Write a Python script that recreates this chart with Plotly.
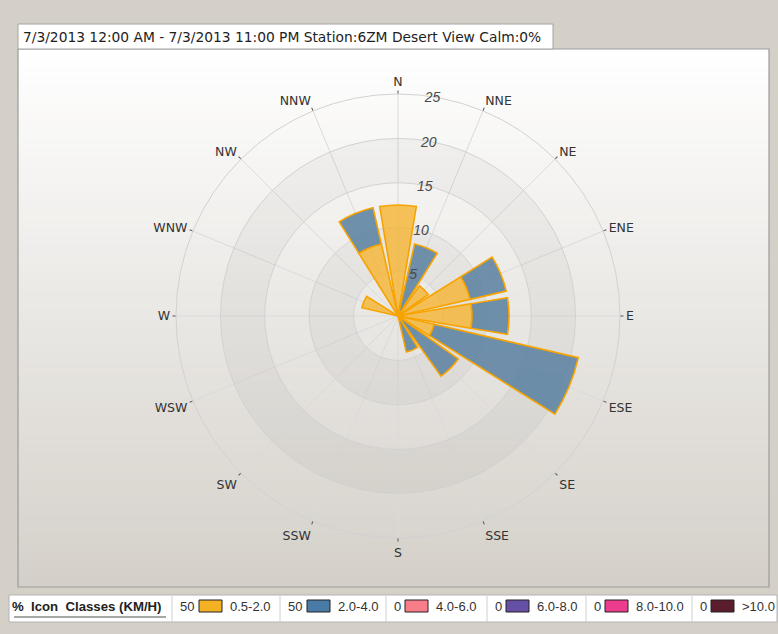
import plotly.graph_objects as go

# ---- data -------------------------------------------------------------
directions = ["N", "NNE", "NE", "ENE", "E", "ESE", "SE", "SSE",
              "S", "SSW", "SW", "WSW", "W", "WNW", "NW", "NNW"]

# frequency (%) per direction for each wind-speed class (KM/H)
freq_05_20 = [12.5, 0, 4.17, 8.33, 8.33, 4.17, 0, 0, 0, 0, 0, 0, 0, 4.17, 0, 8.33]
freq_20_40 = [0, 8.33, 0, 4.17, 4.17, 16.67, 8.33, 4.17, 0, 0, 0, 0, 0, 0, 0, 4.17]
freq_40_60 = [0, 0, 0, 0, 0, 0, 0, 0, 0, 0, 0, 0, 0, 0, 0, 0]
freq_60_80 = [0, 0, 0, 0, 0, 0, 0, 0, 0, 0, 0, 0, 0, 0, 0, 0]
freq_80_100 = [0, 0, 0, 0, 0, 0, 0, 0, 0, 0, 0, 0, 0, 0, 0, 0]
freq_100_up = [0, 0, 0, 0, 0, 0, 0, 0, 0, 0, 0, 0, 0, 0, 0, 0]

class_labels = ["0.5-2.0", "2.0-4.0", "4.0-6.0", "6.0-8.0", "8.0-10.0", ">10.0"]
class_series = [freq_05_20, freq_20_40, freq_40_60, freq_60_80, freq_80_100, freq_100_up]

radial_ticks = [5, 10, 15, 20, 25]
title_text = "7/3/2013 12:00 AM - 7/3/2013 11:00 PM Station:6ZM Desert View Calm:0%"
legend_heading = "%  Icon  Classes (KM/H)"

# ---- styling ----------------------------------------------------------
W, H = 778, 634
bar_fill = ["rgba(245,180,50,0.80)", "rgba(90,128,160,0.86)", "rgba(245,110,120,0.85)",
            "rgba(100,75,165,0.85)", "rgba(235,60,140,0.85)", "rgba(90,28,42,0.85)"]
legend_swatch = ["#F4B124", "#4A7BA6", "#F77E88", "#6650A6", "#EC3C8D", "#5B1D2B"]
bar_edge = "#F7A300"
label_font = "Liberation Sans Narrow, Liberation Sans"


def px_x(x):
    return x / W


def px_y(y):
    return 1 - y / H


angles = [i * 360 / len(directions) for i in range(len(directions))]

fig = go.Figure()

# alternating shaded rings behind the bars
for lo in (5, 15):
    fig.add_trace(go.Barpolar(
        r=[5, 5], base=[lo, lo], theta=[90, 270], width=[180, 180],
        marker=dict(color="rgba(0,0,0,0.032)", line=dict(width=0)),
        hoverinfo="skip", showlegend=False))

# stacked speed classes: each class starts where the previous one ended
cumulative = [0.0] * len(directions)
for label, series, fill in zip(class_labels, class_series, bar_fill):
    keep = [i for i, v in enumerate(series) if v > 0]
    if keep:
        fig.add_trace(go.Barpolar(
            r=[series[i] for i in keep],
            base=[cumulative[i] for i in keep],
            theta=[angles[i] for i in keep],
            width=19,
            name=label,
            marker=dict(color=fill, line=dict(color=bar_edge, width=1.6)),
            showlegend=False))
    cumulative = [c + v for c, v in zip(cumulative, series)]

# ---- background panel ---------------------------------------------------
shapes = []
top, bottom = 49, 587
n_strips = 60
c_top = (255, 255, 255)
c_bot = (212, 208, 201)
step = (bottom - top) / n_strips
for i in range(n_strips):
    t = (i + 0.5) / n_strips
    col = tuple(round(a + (b - a) * t) for a, b in zip(c_top, c_bot))
    shapes.append(dict(type="rect", xref="paper", yref="paper", layer="below",
                       x0=px_x(18), x1=px_x(769),
                       y0=px_y(top + i * step), y1=px_y(top + (i + 1) * step + 0.6),
                       fillcolor="rgb(%d,%d,%d)" % col, line=dict(width=0)))
shapes.append(dict(type="rect", xref="paper", yref="paper", layer="below",
                   x0=px_x(18), x1=px_x(769), y0=px_y(top), y1=px_y(bottom),
                   line=dict(color="#9C9C9C", width=1.2)))
# title tab
shapes.append(dict(type="rect", xref="paper", yref="paper", layer="below",
                   x0=px_x(18), x1=px_x(553), y0=px_y(24), y1=px_y(49),
                   fillcolor="white", line=dict(color="#A4A4A4", width=1)))

annotations = [dict(text=title_text, xref="paper", yref="paper",
                    x=px_x(21), y=px_y(37), xanchor="left", yanchor="middle",
                    showarrow=False,
                    font=dict(family="DejaVu Sans", size=13.8, color="#1E1E1E"))]

# ---- legend strip -----------------------------------------------------
shapes.append(dict(type="rect", xref="paper", yref="paper", layer="below",
                   x0=px_x(9), x1=px_x(777), y0=px_y(595), y1=px_y(622),
                   fillcolor="white", line=dict(color="#B4B4B4", width=1)))
shapes.append(dict(type="line", xref="paper", yref="paper", layer="below",
                   x0=px_x(14), x1=px_x(166), y0=px_y(617), y1=px_y(617),
                   line=dict(color="#8A8A8A", width=1.5)))
annotations.append(dict(text="<b>" + legend_heading + "</b>", xref="paper", yref="paper",
                        x=px_x(10), y=px_y(606), xanchor="left", yanchor="middle",
                        showarrow=False,
                        font=dict(family=label_font, size=13.2, color="#222")))
cell_left = [172, 280, 386, 487, 586, 692]
for i, (label, series) in enumerate(zip(class_labels, class_series)):
    x0 = cell_left[i]
    shapes.append(dict(type="line", xref="paper", yref="paper", layer="below",
                       x0=px_x(x0), x1=px_x(x0), y0=px_y(596), y1=px_y(622),
                       line=dict(color="#D0D0D0", width=1)))
    total = sum(series)
    annotations.append(dict(text="%.0f" % total, xref="paper", yref="paper",
                            x=px_x(x0 + 6), y=px_y(606), xanchor="left", yanchor="middle",
                            showarrow=False,
                            font=dict(family=label_font, size=13, color="#333")))
    bx = x0 + (27 if total >= 10 else 19)
    shapes.append(dict(type="rect", xref="paper", yref="paper", layer="below",
                       x0=px_x(bx), x1=px_x(bx + 23), y0=px_y(600), y1=px_y(612),
                       fillcolor=legend_swatch[i], line=dict(color="#222", width=1)))
    annotations.append(dict(text=label, xref="paper", yref="paper",
                            x=px_x(bx + 29), y=px_y(606), xanchor="left", yanchor="middle",
                            showarrow=False,
                            font=dict(family=label_font, size=13, color="#333")))

# ---- polar layout -------------------------------------------------------
cx, cy, rad = 398, 316, 222
fig.update_layout(
    width=W, height=H,
    margin=dict(l=0, r=0, t=0, b=0),
    paper_bgcolor="#D4D0C8",
    showlegend=False,
    shapes=shapes,
    annotations=annotations,
    polar=dict(
        domain=dict(x=[px_x(cx - rad), px_x(cx + rad)],
                    y=[px_y(cy + rad), px_y(cy - rad)]),
        bgcolor="rgba(0,0,0,0)",
        barmode="overlay",
        radialaxis=dict(range=[0, 25], tickvals=radial_ticks, showline=False,
                        ticks="", angle=85, tickangle=85,
                        gridcolor="#D6D6D6", gridwidth=1,
                        tickfont=dict(family="Liberation Sans", size=14,
                                      color="#4A4A4A", style="italic")),
        angularaxis=dict(direction="clockwise", rotation=90,
                         tickmode="array", tickvals=angles, ticktext=directions,
                         showline=True, linecolor="#D2D2D2", linewidth=1,
                         gridcolor="#DADADA", ticks="outside", ticklen=3,
                         tickcolor="#555",
                         tickfont=dict(family="DejaVu Sans", size=12.5, color="#333")),
    ),
)

fig.write_html("out.html")
